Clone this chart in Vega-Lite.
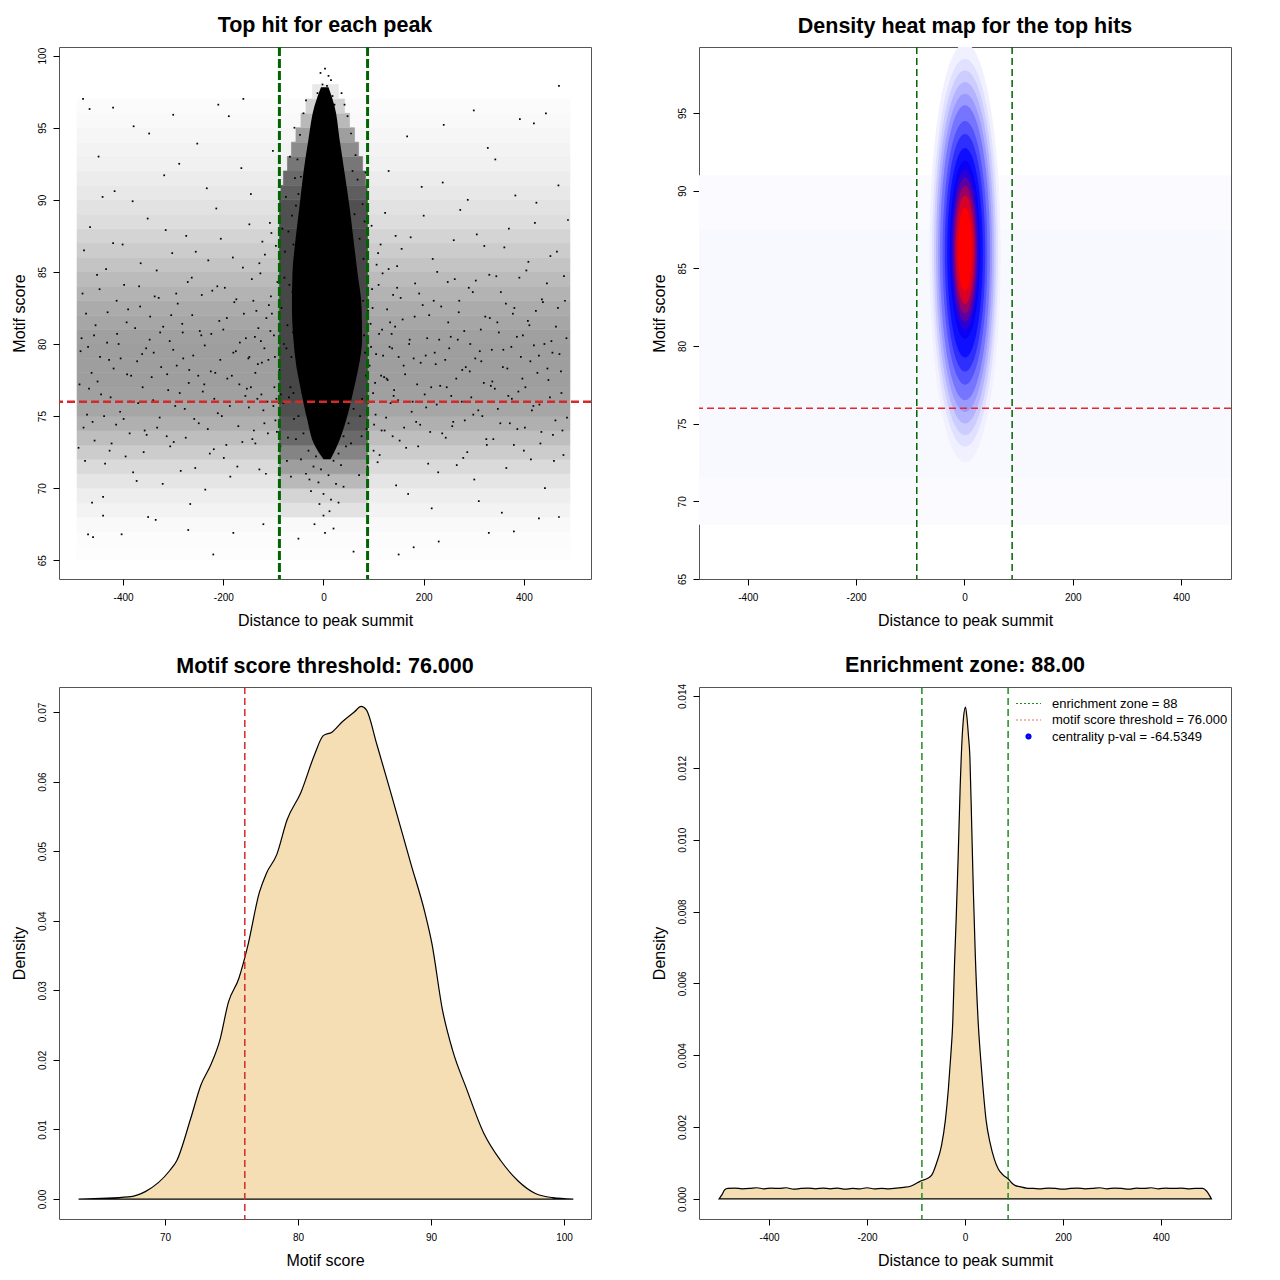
{
  "$schema": "https://vega.github.io/schema/vega-lite/v6.json",
  "padding": {"left": 10, "top": 14, "right": 5, "bottom": 5},
  "background": "white",
  "columns": 2,
  "bounds": "flush",
  "spacing": {"row": 108, "column": 108},
  "datasets": {
    "bands": [
      {"x": -492, "x2": 492, "y": 65, "y2": 66, "d": 0.006},
      {"x": -492, "x2": 492, "y": 66, "y2": 67, "d": 0.012},
      {"x": -492, "x2": 492, "y": 67, "y2": 68, "d": 0.02},
      {"x": -492, "x2": 492, "y": 68, "y2": 69, "d": 0.04},
      {"x": -492, "x2": 492, "y": 69, "y2": 70, "d": 0.06},
      {"x": -492, "x2": 492, "y": 70, "y2": 71, "d": 0.09},
      {"x": -492, "x2": 492, "y": 71, "y2": 72, "d": 0.13},
      {"x": -492, "x2": 492, "y": 72, "y2": 73, "d": 0.18},
      {"x": -492, "x2": 492, "y": 73, "y2": 74, "d": 0.23},
      {"x": -492, "x2": 492, "y": 74, "y2": 75, "d": 0.28},
      {"x": -492, "x2": 492, "y": 75, "y2": 76, "d": 0.32},
      {"x": -492, "x2": 492, "y": 76, "y2": 77, "d": 0.34},
      {"x": -492, "x2": 492, "y": 77, "y2": 78, "d": 0.35},
      {"x": -492, "x2": 492, "y": 78, "y2": 79, "d": 0.35},
      {"x": -492, "x2": 492, "y": 79, "y2": 80, "d": 0.35},
      {"x": -492, "x2": 492, "y": 80, "y2": 81, "d": 0.34},
      {"x": -492, "x2": 492, "y": 81, "y2": 82, "d": 0.32},
      {"x": -492, "x2": 492, "y": 82, "y2": 83, "d": 0.3},
      {"x": -492, "x2": 492, "y": 83, "y2": 84, "d": 0.27},
      {"x": -492, "x2": 492, "y": 84, "y2": 85, "d": 0.24},
      {"x": -492, "x2": 492, "y": 85, "y2": 86, "d": 0.21},
      {"x": -492, "x2": 492, "y": 86, "y2": 87, "d": 0.18},
      {"x": -492, "x2": 492, "y": 87, "y2": 88, "d": 0.15},
      {"x": -492, "x2": 492, "y": 88, "y2": 89, "d": 0.12},
      {"x": -492, "x2": 492, "y": 89, "y2": 90, "d": 0.1},
      {"x": -492, "x2": 492, "y": 90, "y2": 91, "d": 0.08},
      {"x": -492, "x2": 492, "y": 91, "y2": 92, "d": 0.065},
      {"x": -492, "x2": 492, "y": 92, "y2": 93, "d": 0.05},
      {"x": -492, "x2": 492, "y": 93, "y2": 94, "d": 0.04},
      {"x": -492, "x2": 492, "y": 94, "y2": 95, "d": 0.03},
      {"x": -492, "x2": 492, "y": 95, "y2": 96, "d": 0.022},
      {"x": -492, "x2": 492, "y": 96, "y2": 97, "d": 0.014},
      {"x": -88, "x2": 88, "y": 68, "y2": 69, "d": 0.1},
      {"x": -88, "x2": 88, "y": 69, "y2": 70, "d": 0.15},
      {"x": -88, "x2": 88, "y": 70, "y2": 71, "d": 0.25},
      {"x": -88, "x2": 88, "y": 71, "y2": 72, "d": 0.35},
      {"x": -88, "x2": 88, "y": 72, "y2": 73, "d": 0.45},
      {"x": -88, "x2": 88, "y": 73, "y2": 74, "d": 0.55},
      {"x": -88, "x2": 88, "y": 74, "y2": 75, "d": 0.62},
      {"x": -88, "x2": 88, "y": 75, "y2": 76, "d": 0.66},
      {"x": -88, "x2": 88, "y": 76, "y2": 88, "d": 0.7},
      {"x": -88, "x2": 88, "y": 88, "y2": 90, "d": 0.66},
      {"x": -85, "x2": 87, "y": 90, "y2": 91, "d": 0.6},
      {"x": -80, "x2": 84, "y": 91, "y2": 92, "d": 0.55},
      {"x": -72, "x2": 78, "y": 92, "y2": 93, "d": 0.5},
      {"x": -64, "x2": 70, "y": 93, "y2": 94, "d": 0.42},
      {"x": -55, "x2": 62, "y": 94, "y2": 95, "d": 0.35},
      {"x": -45, "x2": 52, "y": 95, "y2": 96, "d": 0.25},
      {"x": -35, "x2": 42, "y": 96, "y2": 97, "d": 0.16},
      {"x": -22, "x2": 30, "y": 97, "y2": 98, "d": 0.08}
    ],
    "core": [
      {"y": 72.0, "xl": 0, "xr": 14},
      {"y": 73.0, "xl": -18, "xr": 28},
      {"y": 74.7, "xl": -32, "xr": 45},
      {"y": 76.8, "xl": -45, "xr": 60},
      {"y": 78.4, "xl": -54, "xr": 70},
      {"y": 80.3, "xl": -60, "xr": 77},
      {"y": 82.6, "xl": -63, "xr": 76},
      {"y": 84.9, "xl": -62, "xr": 68},
      {"y": 87.2, "xl": -56, "xr": 60},
      {"y": 89.5, "xl": -48, "xr": 52},
      {"y": 91.9, "xl": -40, "xr": 42},
      {"y": 94.2, "xl": -30, "xr": 32},
      {"y": 96.5, "xl": -18, "xr": 22},
      {"y": 97.8, "xl": -5, "xr": 10}
    ],
    "pts": [
      {"x": -487, "y": 77.2}, {"x": -481, "y": 83.5}, {"x": -476, "y": 71.9}, {"x": -470, "y": 79.8}, {"x": -466, "y": 88.1},
      {"x": -461, "y": 74.6}, {"x": -455, "y": 81.3}, {"x": -449, "y": 93.0}, {"x": -444, "y": 76.5}, {"x": -440, "y": 69.4},
      {"x": -434, "y": 85.2}, {"x": -428, "y": 78.9}, {"x": -423, "y": 73.1}, {"x": -417, "y": 90.6}, {"x": -412, "y": 80.7},
      {"x": -406, "y": 75.3}, {"x": -401, "y": 86.9}, {"x": -395, "y": 72.2}, {"x": -390, "y": 82.4}, {"x": -384, "y": 77.8},
      {"x": -379, "y": 95.1}, {"x": -373, "y": 70.5}, {"x": -368, "y": 84.0}, {"x": -362, "y": 79.3}, {"x": -357, "y": 74.0},
      {"x": -351, "y": 88.7}, {"x": -346, "y": 81.9}, {"x": -340, "y": 76.1}, {"x": -335, "y": 67.8}, {"x": -329, "y": 83.2},
      {"x": -324, "y": 78.4}, {"x": -318, "y": 91.7}, {"x": -313, "y": 73.6}, {"x": -307, "y": 80.2}, {"x": -302, "y": 86.3},
      {"x": -296, "y": 75.7}, {"x": -291, "y": 82.8}, {"x": -285, "y": 71.2}, {"x": -280, "y": 79.0}, {"x": -274, "y": 87.5},
      {"x": -269, "y": 77.3}, {"x": -263, "y": 84.6}, {"x": -258, "y": 74.8}, {"x": -252, "y": 93.9}, {"x": -247, "y": 80.9},
      {"x": -241, "y": 76.7}, {"x": -236, "y": 69.9}, {"x": -230, "y": 85.8}, {"x": -225, "y": 78.1}, {"x": -219, "y": 72.7},
      {"x": -214, "y": 89.4}, {"x": -208, "y": 81.6}, {"x": -203, "y": 75.0}, {"x": -197, "y": 83.9}, {"x": -192, "y": 77.6},
      {"x": -186, "y": 70.8}, {"x": -181, "y": 86.0}, {"x": -175, "y": 79.5}, {"x": -170, "y": 74.3}, {"x": -164, "y": 92.2},
      {"x": -159, "y": 82.1}, {"x": -153, "y": 76.9}, {"x": -148, "y": 88.3}, {"x": -142, "y": 73.4}, {"x": -137, "y": 80.5},
      {"x": -131, "y": 78.6}, {"x": -126, "y": 84.9}, {"x": -120, "y": 75.4}, {"x": -115, "y": 71.0}, {"x": -109, "y": 82.7},
      {"x": -104, "y": 87.7}, {"x": -98, "y": 77.0}, {"x": -93, "y": 73.9},
      {"x": 95, "y": 79.8}, {"x": 101, "y": 74.4}, {"x": 106, "y": 85.5}, {"x": 112, "y": 72.3}, {"x": 117, "y": 81.0},
      {"x": 123, "y": 89.1}, {"x": 128, "y": 77.5}, {"x": 134, "y": 75.9}, {"x": 139, "y": 83.4}, {"x": 145, "y": 70.2},
      {"x": 150, "y": 79.1}, {"x": 156, "y": 86.6}, {"x": 161, "y": 74.2}, {"x": 167, "y": 94.4}, {"x": 172, "y": 80.3},
      {"x": 178, "y": 76.0}, {"x": 183, "y": 84.2}, {"x": 189, "y": 72.9}, {"x": 194, "y": 78.7}, {"x": 200, "y": 88.9},
      {"x": 205, "y": 75.6}, {"x": 211, "y": 82.0}, {"x": 216, "y": 68.6}, {"x": 222, "y": 79.4}, {"x": 227, "y": 85.0},
      {"x": 233, "y": 77.1}, {"x": 238, "y": 91.2}, {"x": 244, "y": 73.5}, {"x": 249, "y": 81.5}, {"x": 255, "y": 76.4},
      {"x": 260, "y": 87.2}, {"x": 266, "y": 71.6}, {"x": 271, "y": 83.0}, {"x": 277, "y": 78.2}, {"x": 282, "y": 74.7},
      {"x": 288, "y": 90.0}, {"x": 293, "y": 80.0}, {"x": 299, "y": 75.1}, {"x": 304, "y": 84.4}, {"x": 310, "y": 69.1},
      {"x": 315, "y": 78.8}, {"x": 321, "y": 86.8}, {"x": 326, "y": 73.0}, {"x": 332, "y": 81.8}, {"x": 337, "y": 77.4},
      {"x": 343, "y": 92.8}, {"x": 348, "y": 75.5}, {"x": 354, "y": 83.6}, {"x": 359, "y": 79.6}, {"x": 365, "y": 71.4},
      {"x": 370, "y": 88.0}, {"x": 376, "y": 76.2}, {"x": 381, "y": 82.5}, {"x": 387, "y": 74.1}, {"x": 392, "y": 95.6},
      {"x": 398, "y": 80.6}, {"x": 403, "y": 77.0}, {"x": 409, "y": 85.7}, {"x": 414, "y": 72.0}, {"x": 420, "y": 79.9},
      {"x": 425, "y": 89.8}, {"x": 431, "y": 75.8}, {"x": 436, "y": 83.1}, {"x": 442, "y": 70.0}, {"x": 447, "y": 78.3},
      {"x": 453, "y": 86.1}, {"x": 458, "y": 73.7}, {"x": 464, "y": 81.2}, {"x": 469, "y": 91.0}, {"x": 475, "y": 76.6},
      {"x": 480, "y": 84.7}, {"x": 486, "y": 74.9},
      {"x": -489, "y": 72.8}, {"x": -483, "y": 80.4}, {"x": -478, "y": 86.5}, {"x": -472, "y": 75.1}, {"x": -467, "y": 96.3},
      {"x": -463, "y": 78.0}, {"x": -457, "y": 73.3}, {"x": -452, "y": 84.8}, {"x": -446, "y": 79.1}, {"x": -441, "y": 90.2},
      {"x": -436, "y": 71.7}, {"x": -431, "y": 82.2}, {"x": -425, "y": 76.3}, {"x": -420, "y": 87.0}, {"x": -414, "y": 74.4},
      {"x": -409, "y": 80.0}, {"x": -403, "y": 66.8}, {"x": -398, "y": 84.1}, {"x": -392, "y": 77.9}, {"x": -387, "y": 73.8},
      {"x": -381, "y": 89.9}, {"x": -376, "y": 81.1}, {"x": -370, "y": 75.9}, {"x": -365, "y": 85.6}, {"x": -359, "y": 72.5},
      {"x": -354, "y": 79.7}, {"x": -348, "y": 94.6}, {"x": -343, "y": 77.7}, {"x": -337, "y": 83.3}, {"x": -332, "y": 74.2},
      {"x": -326, "y": 80.8}, {"x": -321, "y": 70.3}, {"x": -315, "y": 87.9}, {"x": -310, "y": 76.8}, {"x": -304, "y": 82.0},
      {"x": -299, "y": 73.2}, {"x": -293, "y": 78.5}, {"x": -288, "y": 92.5}, {"x": -282, "y": 81.4}, {"x": -277, "y": 75.5},
      {"x": -271, "y": 84.3}, {"x": -266, "y": 68.9}, {"x": -260, "y": 79.2}, {"x": -255, "y": 86.4}, {"x": -249, "y": 74.5},
      {"x": -244, "y": 80.6}, {"x": -238, "y": 77.2}, {"x": -233, "y": 90.8}, {"x": -227, "y": 72.4}, {"x": -222, "y": 83.7},
      {"x": -216, "y": 78.0}, {"x": -211, "y": 75.2}, {"x": -205, "y": 87.3}, {"x": -200, "y": 81.0}, {"x": -194, "y": 73.0},
      {"x": -189, "y": 95.8}, {"x": -183, "y": 77.8}, {"x": -178, "y": 82.9}, {"x": -172, "y": 71.5}, {"x": -167, "y": 80.1},
      {"x": -161, "y": 85.3}, {"x": -156, "y": 76.4}, {"x": -150, "y": 79.0}, {"x": -145, "y": 90.4}, {"x": -139, "y": 74.0},
      {"x": -134, "y": 82.3}, {"x": -128, "y": 71.3}, {"x": -123, "y": 78.7}, {"x": -117, "y": 86.2}, {"x": -112, "y": 76.0},
      {"x": -106, "y": 80.9}, {"x": -101, "y": 93.4}, {"x": -96, "y": 74.7},
      {"x": 97, "y": 83.8}, {"x": 103, "y": 77.3}, {"x": 108, "y": 71.8}, {"x": 114, "y": 86.9}, {"x": 119, "y": 79.2},
      {"x": 125, "y": 74.9}, {"x": 130, "y": 92.0}, {"x": 136, "y": 80.7}, {"x": 141, "y": 76.8}, {"x": 147, "y": 85.4},
      {"x": 152, "y": 73.3}, {"x": 158, "y": 81.7}, {"x": 163, "y": 77.9}, {"x": 169, "y": 69.6}, {"x": 174, "y": 87.4},
      {"x": 180, "y": 79.0}, {"x": 185, "y": 74.6}, {"x": 191, "y": 83.5}, {"x": 196, "y": 90.9}, {"x": 202, "y": 76.5},
      {"x": 207, "y": 80.4}, {"x": 213, "y": 73.9}, {"x": 218, "y": 85.9}, {"x": 224, "y": 78.6}, {"x": 229, "y": 71.1},
      {"x": 235, "y": 82.6}, {"x": 240, "y": 95.2}, {"x": 246, "y": 77.0}, {"x": 251, "y": 79.7}, {"x": 257, "y": 74.3},
      {"x": 262, "y": 84.5}, {"x": 268, "y": 80.3}, {"x": 273, "y": 89.3}, {"x": 279, "y": 72.1}, {"x": 284, "y": 78.4},
      {"x": 290, "y": 83.9}, {"x": 295, "y": 76.3}, {"x": 301, "y": 70.6}, {"x": 306, "y": 87.6}, {"x": 312, "y": 79.5},
      {"x": 317, "y": 75.0}, {"x": 323, "y": 81.9}, {"x": 328, "y": 93.6}, {"x": 334, "y": 77.1}, {"x": 339, "y": 73.4},
      {"x": 345, "y": 84.7}, {"x": 350, "y": 80.8}, {"x": 356, "y": 68.3}, {"x": 361, "y": 86.7}, {"x": 367, "y": 78.3},
      {"x": 372, "y": 74.5}, {"x": 378, "y": 82.1}, {"x": 383, "y": 90.3}, {"x": 389, "y": 76.7}, {"x": 394, "y": 79.1},
      {"x": 400, "y": 72.6}, {"x": 405, "y": 85.1}, {"x": 411, "y": 81.3}, {"x": 416, "y": 75.4}, {"x": 422, "y": 88.4},
      {"x": 427, "y": 78.0}, {"x": 433, "y": 73.1}, {"x": 438, "y": 82.9}, {"x": 444, "y": 96.0}, {"x": 449, "y": 77.5},
      {"x": 455, "y": 80.2}, {"x": 460, "y": 71.9}, {"x": 466, "y": 86.4}, {"x": 471, "y": 79.3}, {"x": 477, "y": 74.0},
      {"x": 482, "y": 83.0}, {"x": 488, "y": 88.6},
      {"x": -485, "y": 79.5}, {"x": -479, "y": 74.2}, {"x": -474, "y": 82.1}, {"x": -468, "y": 76.9}, {"x": -462, "y": 69.0},
      {"x": -458, "y": 80.6}, {"x": -451, "y": 77.4}, {"x": -447, "y": 83.8}, {"x": -438, "y": 75.0}, {"x": -432, "y": 80.1},
      {"x": -427, "y": 72.6}, {"x": -419, "y": 78.3}, {"x": -413, "y": 83.0}, {"x": -405, "y": 79.0}, {"x": -399, "y": 74.8},
      {"x": -393, "y": 81.5}, {"x": -386, "y": 76.0}, {"x": -380, "y": 71.1}, {"x": -372, "y": 78.8}, {"x": -366, "y": 82.6},
      {"x": -361, "y": 77.0}, {"x": -353, "y": 73.7}, {"x": -347, "y": 80.3}, {"x": -339, "y": 79.4}, {"x": -333, "y": 85.1},
      {"x": -327, "y": 74.9}, {"x": -320, "y": 81.2}, {"x": -312, "y": 77.9}, {"x": -306, "y": 72.9}, {"x": -300, "y": 79.6},
      {"x": -294, "y": 83.5}, {"x": -287, "y": 76.6}, {"x": -281, "y": 80.8}, {"x": -275, "y": 73.5}, {"x": -268, "y": 78.2},
      {"x": -262, "y": 82.0}, {"x": -256, "y": 71.4}, {"x": -250, "y": 77.8}, {"x": -243, "y": 83.4}, {"x": -237, "y": 79.9},
      {"x": -231, "y": 74.1}, {"x": -224, "y": 80.7}, {"x": -218, "y": 76.2}, {"x": -212, "y": 84.0}, {"x": -206, "y": 78.9},
      {"x": -199, "y": 72.1}, {"x": -193, "y": 81.8}, {"x": -187, "y": 75.7}, {"x": -180, "y": 79.4}, {"x": -174, "y": 83.1},
      {"x": -168, "y": 77.2}, {"x": -162, "y": 73.2}, {"x": -155, "y": 80.4}, {"x": -149, "y": 75.6}, {"x": -143, "y": 84.5},
      {"x": -136, "y": 78.0}, {"x": -130, "y": 81.1}, {"x": -124, "y": 76.5}, {"x": -118, "y": 79.7}, {"x": -111, "y": 73.8},
      {"x": -105, "y": 83.3}, {"x": -99, "y": 80.6}, {"x": -94, "y": 76.2},
      {"x": 94, "y": 81.4}, {"x": 99, "y": 76.6}, {"x": 105, "y": 79.3}, {"x": 110, "y": 84.1}, {"x": 116, "y": 74.0},
      {"x": 121, "y": 77.7}, {"x": 127, "y": 82.4}, {"x": 132, "y": 79.8}, {"x": 138, "y": 73.6}, {"x": 143, "y": 81.2},
      {"x": 149, "y": 76.1}, {"x": 154, "y": 83.2}, {"x": 160, "y": 78.5}, {"x": 165, "y": 72.8}, {"x": 171, "y": 80.0},
      {"x": 176, "y": 75.3}, {"x": 182, "y": 81.9}, {"x": 187, "y": 77.2}, {"x": 193, "y": 74.4}, {"x": 198, "y": 82.7},
      {"x": 204, "y": 79.2}, {"x": 209, "y": 71.7}, {"x": 215, "y": 77.0}, {"x": 220, "y": 83.0}, {"x": 226, "y": 75.8},
      {"x": 231, "y": 80.3}, {"x": 237, "y": 73.8}, {"x": 243, "y": 78.9}, {"x": 248, "y": 84.3}, {"x": 254, "y": 80.5},
      {"x": 259, "y": 74.6}, {"x": 265, "y": 77.6}, {"x": 270, "y": 82.2}, {"x": 276, "y": 76.0}, {"x": 281, "y": 80.9},
      {"x": 287, "y": 72.5}, {"x": 292, "y": 78.1}, {"x": 298, "y": 83.6}, {"x": 303, "y": 79.0}, {"x": 309, "y": 75.4},
      {"x": 314, "y": 81.0}, {"x": 320, "y": 77.3}, {"x": 325, "y": 73.4}, {"x": 331, "y": 84.8}, {"x": 336, "y": 79.6},
      {"x": 342, "y": 76.9}, {"x": 347, "y": 81.5}, {"x": 353, "y": 74.5}, {"x": 358, "y": 78.4}, {"x": 364, "y": 82.8},
      {"x": 369, "y": 76.4}, {"x": 375, "y": 79.8}, {"x": 380, "y": 73.0}, {"x": 386, "y": 80.5}, {"x": 391, "y": 84.6},
      {"x": 397, "y": 77.6}, {"x": 402, "y": 74.2}, {"x": 408, "y": 81.6}, {"x": 413, "y": 78.8}, {"x": 419, "y": 75.7},
      {"x": 424, "y": 82.3}, {"x": 430, "y": 79.2}, {"x": 435, "y": 73.9}, {"x": 441, "y": 80.0}, {"x": 446, "y": 84.2},
      {"x": 452, "y": 76.3}, {"x": 457, "y": 79.4}, {"x": 463, "y": 74.7}, {"x": 468, "y": 82.5}, {"x": 474, "y": 78.1},
      {"x": 479, "y": 72.3}, {"x": 485, "y": 80.4},
      {"x": -480, "y": 97.0}, {"x": -420, "y": 96.4}, {"x": -300, "y": 95.9}, {"x": -210, "y": 96.6}, {"x": -160, "y": 97.0},
      {"x": 470, "y": 97.9}, {"x": 420, "y": 95.3}, {"x": 300, "y": 96.2}, {"x": -470, "y": 66.8}, {"x": -460, "y": 66.6},
      {"x": -350, "y": 68.0}, {"x": -270, "y": 67.1}, {"x": -220, "y": 65.4}, {"x": -180, "y": 66.9}, {"x": -120, "y": 67.5},
      {"x": 150, "y": 65.4}, {"x": 180, "y": 65.9}, {"x": 230, "y": 66.3}, {"x": 330, "y": 66.9}, {"x": 430, "y": 67.9},
      {"x": 470, "y": 68.0}, {"x": 380, "y": 67.0}, {"x": -440, "y": 68.1}, {"x": 60, "y": 65.6}, {"x": -50, "y": 66.5},
      {"x": 20, "y": 67.2},
      {"x": -88, "y": 78.2}, {"x": -84, "y": 82.5}, {"x": -80, "y": 75.9}, {"x": -77, "y": 86.4}, {"x": -74, "y": 79.7},
      {"x": -71, "y": 73.5}, {"x": -68, "y": 84.1}, {"x": -66, "y": 77.0}, {"x": -63, "y": 88.9}, {"x": -61, "y": 80.8},
      {"x": -59, "y": 74.8}, {"x": -57, "y": 91.5}, {"x": -72, "y": 81.3}, {"x": -82, "y": 88.0}, {"x": -86, "y": 72.9},
      {"x": -79, "y": 80.0}, {"x": -65, "y": 70.8}, {"x": -69, "y": 76.3}, {"x": -75, "y": 90.2}, {"x": -62, "y": 83.6},
      {"x": -60, "y": 86.9}, {"x": -64, "y": 79.1}, {"x": -70, "y": 87.8}, {"x": -78, "y": 84.6}, {"x": -85, "y": 76.5},
      {"x": -73, "y": 71.9}, {"x": -67, "y": 93.0}, {"x": -58, "y": 95.0}, {"x": -52, "y": 92.8}, {"x": -47, "y": 94.5},
      {"x": -40, "y": 96.0}, {"x": -35, "y": 96.9}, {"x": -55, "y": 89.6}, {"x": -50, "y": 90.4}, {"x": -45, "y": 91.6},
      {"x": 62, "y": 89.0}, {"x": 66, "y": 84.7}, {"x": 70, "y": 78.8}, {"x": 74, "y": 81.6}, {"x": 77, "y": 76.2},
      {"x": 80, "y": 85.9}, {"x": 83, "y": 79.4}, {"x": 86, "y": 74.1}, {"x": 89, "y": 82.3}, {"x": 68, "y": 91.4},
      {"x": 72, "y": 87.3}, {"x": 76, "y": 73.6}, {"x": 79, "y": 83.0}, {"x": 82, "y": 88.5}, {"x": 85, "y": 77.8},
      {"x": 88, "y": 71.5}, {"x": 64, "y": 93.1}, {"x": 58, "y": 92.0}, {"x": 55, "y": 94.6}, {"x": 48, "y": 95.8},
      {"x": 42, "y": 96.6}, {"x": 36, "y": 97.4}, {"x": 60, "y": 86.0}, {"x": 73, "y": 75.0}, {"x": 81, "y": 80.6},
      {"x": 87, "y": 86.2}, {"x": 71, "y": 70.9}, {"x": 84, "y": 91.9}, {"x": 78, "y": 89.7}, {"x": 67, "y": 80.1},
      {"x": -40, "y": 73.8}, {"x": -30, "y": 72.6}, {"x": -20, "y": 71.5}, {"x": -10, "y": 70.4}, {"x": 0, "y": 69.6},
      {"x": 10, "y": 70.9}, {"x": 20, "y": 71.9}, {"x": 30, "y": 72.4}, {"x": 40, "y": 73.6}, {"x": 50, "y": 74.5},
      {"x": -50, "y": 75.0}, {"x": -35, "y": 71.0}, {"x": -25, "y": 69.8}, {"x": -15, "y": 72.2}, {"x": -5, "y": 71.3},
      {"x": 5, "y": 72.5}, {"x": 15, "y": 69.2}, {"x": 25, "y": 70.3}, {"x": 35, "y": 71.6}, {"x": 45, "y": 72.9},
      {"x": 55, "y": 73.1}, {"x": -45, "y": 72.0}, {"x": 0, "y": 68.1}, {"x": -8, "y": 68.9}, {"x": 12, "y": 68.4},
      {"x": 30, "y": 69.0}, {"x": -28, "y": 70.6}, {"x": -55, "y": 73.4}, {"x": 60, "y": 75.5}, {"x": -60, "y": 76.6},
      {"x": 8, "y": 73.4}, {"x": -12, "y": 73.9}, {"x": 18, "y": 73.0}, {"x": -22, "y": 74.3}, {"x": 28, "y": 74.0},
      {"x": 38, "y": 75.8}, {"x": -42, "y": 76.6}, {"x": 3, "y": 66.9}, {"x": -18, "y": 67.5}, {"x": 40, "y": 70.1},
      {"x": -148, "y": 79.1}, {"x": -140, "y": 83.0}, {"x": -132, "y": 76.2}, {"x": -125, "y": 80.2}, {"x": -118, "y": 74.5},
      {"x": -110, "y": 78.9}, {"x": -103, "y": 82.1}, {"x": -97, "y": 79.1}, {"x": -92, "y": 84.3}, {"x": -145, "y": 77.0},
      {"x": -128, "y": 85.6}, {"x": -114, "y": 81.8}, {"x": -100, "y": 75.7}, {"x": -136, "y": 73.1}, {"x": -122, "y": 87.1},
      {"x": -107, "y": 88.4}, {"x": -95, "y": 86.8},
      {"x": 92, "y": 78.5}, {"x": 98, "y": 82.5}, {"x": 104, "y": 75.1}, {"x": 111, "y": 80.7}, {"x": 118, "y": 84.9},
      {"x": 126, "y": 77.6}, {"x": 133, "y": 81.5}, {"x": 140, "y": 76.4}, {"x": 147, "y": 83.9}, {"x": 96, "y": 88.2},
      {"x": 109, "y": 86.3}, {"x": 122, "y": 74.0}, {"x": 137, "y": 79.7}, {"x": 144, "y": 87.5}, {"x": 100, "y": 72.6},
      {"x": 115, "y": 77.8}, {"x": 130, "y": 85.2},
      {"x": -6, "y": 98.8}, {"x": 3, "y": 99.1}, {"x": 10, "y": 98.6}, {"x": 15, "y": 98.3}, {"x": -2, "y": 98.0},
      {"x": 7, "y": 97.9}, {"x": 18, "y": 97.2}, {"x": -12, "y": 97.4}, {"x": 22, "y": 96.6}, {"x": -17, "y": 96.1}
    ],
    "zone": [{"v": -88}, {"v": 88}],
    "heatbg": [
      {"x": -490, "x2": 492, "y": 68.5, "y2": 91, "d": 0.008},
      {"x": -490, "x2": 492, "y": 71.5, "y2": 87.5, "d": 0.014}
    ],
    "heat": [
      {"cx": 1, "cy": 86, "h": 27, "d": 0.03},
      {"cx": 1, "cy": 86, "h": 25, "d": 0.06},
      {"cx": 1, "cy": 86, "h": 23.5, "d": 0.1},
      {"cx": 1, "cy": 86, "h": 22, "d": 0.15},
      {"cx": 1, "cy": 86, "h": 20.5, "d": 0.2},
      {"cx": 1, "cy": 86, "h": 19, "d": 0.27},
      {"cx": 1, "cy": 86, "h": 17, "d": 0.34},
      {"cx": 1, "cy": 86, "h": 15.3, "d": 0.41},
      {"cx": 1, "cy": 86, "h": 13.5, "d": 0.47},
      {"cx": 1, "cy": 86.2, "h": 11.5, "d": 0.52},
      {"cx": 1, "cy": 86.2, "h": 10.3, "d": 0.58},
      {"cx": 1, "cy": 86.2, "h": 9.3, "d": 0.68},
      {"cx": 1, "cy": 86.2, "h": 8.2, "d": 0.8},
      {"cx": 1, "cy": 86.2, "h": 7.0, "d": 0.92},
      {"cx": 1, "cy": 86.2, "h": 5.4, "d": 1.0}
    ],
    "dens1": [
      {"x": 63.5, "y": 0}, {"x": 67.25, "y": 0.0003}, {"x": 68.55, "y": 0.0011}, {"x": 70.36, "y": 0.0041},
      {"x": 70.88, "y": 0.0055}, {"x": 71.92, "y": 0.0115}, {"x": 72.7, "y": 0.0164}, {"x": 73.47, "y": 0.0194},
      {"x": 74.12, "y": 0.0228}, {"x": 74.77, "y": 0.0283}, {"x": 75.55, "y": 0.0317}, {"x": 76.2, "y": 0.0362},
      {"x": 77.1, "y": 0.0441}, {"x": 77.62, "y": 0.0468}, {"x": 78.4, "y": 0.0495}, {"x": 79.18, "y": 0.0545},
      {"x": 80.21, "y": 0.0584}, {"x": 81.25, "y": 0.0639}, {"x": 81.9, "y": 0.0666}, {"x": 82.55, "y": 0.0671},
      {"x": 83.33, "y": 0.0686}, {"x": 84.23, "y": 0.07}, {"x": 84.75, "y": 0.0708}, {"x": 85.14, "y": 0.0703},
      {"x": 85.92, "y": 0.0654}, {"x": 87.2, "y": 0.0569}, {"x": 88.5, "y": 0.0481}, {"x": 89.55, "y": 0.0411},
      {"x": 90.07, "y": 0.0367}, {"x": 90.85, "y": 0.0273}, {"x": 91.62, "y": 0.0214}, {"x": 92.66, "y": 0.0159},
      {"x": 93.96, "y": 0.0095}, {"x": 95.25, "y": 0.0055}, {"x": 96.55, "y": 0.0026}, {"x": 97.85, "y": 0.0008},
      {"x": 99.14, "y": 0.0002}, {"x": 100.7, "y": 0}
    ],
    "dens2": [
      {"x": -502, "y": 0}, {"x": -496, "y": 0.00012}, {"x": -490, "y": 0.00026}, {"x": -484, "y": 0.00029},
      {"x": -470, "y": 0.0003}, {"x": -455, "y": 0.00028}, {"x": -440, "y": 0.00029}, {"x": -425, "y": 0.00031},
      {"x": -410, "y": 0.00028}, {"x": -395, "y": 0.0003}, {"x": -380, "y": 0.00029}, {"x": -365, "y": 0.00031},
      {"x": -350, "y": 0.00027}, {"x": -335, "y": 0.00029}, {"x": -320, "y": 0.0003}, {"x": -305, "y": 0.00028},
      {"x": -290, "y": 0.0003}, {"x": -275, "y": 0.00028}, {"x": -260, "y": 0.0003}, {"x": -245, "y": 0.00027},
      {"x": -230, "y": 0.00029}, {"x": -215, "y": 0.00028}, {"x": -200, "y": 0.00031}, {"x": -185, "y": 0.00028},
      {"x": -170, "y": 0.00029}, {"x": -155, "y": 0.00028}, {"x": -140, "y": 0.0003}, {"x": -125, "y": 0.00032},
      {"x": -110, "y": 0.00036}, {"x": -97, "y": 0.00045}, {"x": -88, "y": 0.00051}, {"x": -78, "y": 0.00056},
      {"x": -68, "y": 0.00066}, {"x": -58, "y": 0.001}, {"x": -48, "y": 0.00148}, {"x": -40, "y": 0.0022},
      {"x": -34, "y": 0.00305}, {"x": -29, "y": 0.004}, {"x": -25, "y": 0.00491}, {"x": -21.5, "y": 0.0065},
      {"x": -18, "y": 0.0078}, {"x": -14, "y": 0.0095}, {"x": -10, "y": 0.0114}, {"x": -6, "y": 0.0128},
      {"x": -3, "y": 0.0134}, {"x": 1, "y": 0.01369}, {"x": 4, "y": 0.0134}, {"x": 7, "y": 0.0129},
      {"x": 10, "y": 0.0123}, {"x": 13.5, "y": 0.0105}, {"x": 17, "y": 0.0086}, {"x": 21, "y": 0.0068},
      {"x": 27, "y": 0.0049}, {"x": 32, "y": 0.0039}, {"x": 37, "y": 0.00305}, {"x": 43, "y": 0.0022},
      {"x": 51, "y": 0.00157}, {"x": 60, "y": 0.0011}, {"x": 68, "y": 0.00083}, {"x": 78, "y": 0.00066},
      {"x": 88, "y": 0.00056}, {"x": 95, "y": 0.00045}, {"x": 103, "y": 0.00037}, {"x": 112, "y": 0.00034},
      {"x": 125, "y": 0.0003}, {"x": 140, "y": 0.00029}, {"x": 155, "y": 0.00028}, {"x": 170, "y": 0.0003},
      {"x": 185, "y": 0.00029}, {"x": 200, "y": 0.00027}, {"x": 215, "y": 0.00029}, {"x": 230, "y": 0.0003},
      {"x": 245, "y": 0.00028}, {"x": 260, "y": 0.00029}, {"x": 275, "y": 0.00031}, {"x": 290, "y": 0.00028},
      {"x": 305, "y": 0.0003}, {"x": 320, "y": 0.00029}, {"x": 335, "y": 0.00027}, {"x": 350, "y": 0.0003},
      {"x": 365, "y": 0.00029}, {"x": 380, "y": 0.00031}, {"x": 395, "y": 0.00028}, {"x": 410, "y": 0.0003},
      {"x": 425, "y": 0.00029}, {"x": 440, "y": 0.0003}, {"x": 455, "y": 0.00028}, {"x": 470, "y": 0.00029},
      {"x": 485, "y": 0.00029}, {"x": 493, "y": 0.00022}, {"x": 503, "y": 0}
    ],
    "leg": [
      {"label": "enrichment zone = 88"},
      {"label": "motif score threshold = 76.000"},
      {"label": "centrality p-val = -64.5349"}
    ]
  },
  "concat": [
    {
      "width": 532,
      "height": 532,
      "title": {"text": "Top hit for each peak", "offset": 9},
      "layer": [
        {
          "data": {"name": "bands"},
          "mark": {"type": "rect", "strokeWidth": 0.6},
          "encoding": {
            "x": {"field": "x", "type": "quantitative", "scale": {"domain": [-528, 534], "nice": false, "zero": false}, "axis": {"values": [-400, -200, 0, 200, 400], "title": "Distance to peak summit"}},
            "x2": {"field": "x2"},
            "y": {"field": "y", "type": "quantitative", "scale": {"domain": [63.7, 100.6], "nice": false, "zero": false}, "axis": {"values": [65, 70, 75, 80, 85, 90, 95, 100], "title": "Motif score"}},
            "y2": {"field": "y2"},
            "color": {"field": "d", "type": "quantitative", "scale": {"domain": [0, 1], "range": ["#ffffff", "#000000"]}, "legend": null},
            "stroke": {"field": "d", "type": "quantitative", "scale": {"domain": [0, 1], "range": ["#ffffff", "#000000"]}, "legend": null}
          }
        },
        {
          "data": {"name": "core"},
          "mark": {"type": "area", "orient": "horizontal", "color": "#000000", "interpolate": "monotone"},
          "encoding": {
            "y": {"field": "y", "type": "quantitative"},
            "x": {"field": "xl", "type": "quantitative"},
            "x2": {"field": "xr"}
          }
        },
        {
          "data": {"name": "pts"},
          "mark": {"type": "square", "size": 3, "color": "#000000", "opacity": 1},
          "encoding": {
            "x": {"field": "x", "type": "quantitative"},
            "y": {"field": "y", "type": "quantitative"}
          }
        },
        {
          "data": {"name": "zone"},
          "mark": {"type": "rule", "color": "#006400", "strokeWidth": 3, "strokeDash": [9, 3]},
          "encoding": {"x": {"field": "v", "type": "quantitative"}}
        },
        {
          "data": {"values": [{"v": 76}]},
          "mark": {"type": "rule", "color": "#d42a2a", "strokeWidth": 2.5, "strokeDash": [8, 4]},
          "encoding": {"y": {"field": "v", "type": "quantitative"}}
        }
      ]
    },
    {
      "width": 532,
      "height": 532,
      "title": {"text": "Density heat map for the top hits", "offset": 9},
      "layer": [
        {
          "data": {"name": "heatbg"},
          "mark": {"type": "rect"},
          "encoding": {
            "x": {"field": "x", "type": "quantitative", "scale": {"domain": [-490, 492], "nice": false, "zero": false}, "axis": {"values": [-400, -200, 0, 200, 400], "title": "Distance to peak summit"}},
            "x2": {"field": "x2"},
            "y": {"field": "y", "type": "quantitative", "scale": {"domain": [65, 99.25], "nice": false, "zero": false}, "axis": {"values": [65, 70, 75, 80, 85, 90, 95], "title": "Motif score"}},
            "y2": {"field": "y2"},
            "color": {"field": "d", "type": "quantitative", "scale": {"domain": [0, 0.5, 1], "range": ["#ffffff", "#0000ff", "#ff0000"], "interpolate": "rgb"}, "legend": null}
          }
        },
        {
          "data": {"name": "heat"},
          "mark": {"type": "point", "filled": true, "opacity": 1, "strokeWidth": 0, "shape": "M0,-1A0.17,1 0 1,1 0,1A0.17,1 0 1,1 0,-1Z", "clip": true},
          "encoding": {
            "x": {"field": "cx", "type": "quantitative"},
            "y": {"field": "cy", "type": "quantitative"},
            "size": {"field": "h", "type": "quantitative", "scale": {"type": "pow", "exponent": 2, "domain": [0, 30], "range": [0, 216810]}, "legend": null},
            "color": {"field": "d", "type": "quantitative"}
          }
        },
        {
          "data": {"name": "zone"},
          "mark": {"type": "rule", "color": "#006400", "strokeWidth": 1.5, "strokeDash": [7, 4]},
          "encoding": {"x": {"field": "v", "type": "quantitative"}}
        },
        {
          "data": {"values": [{"v": 76}]},
          "mark": {"type": "rule", "color": "#e8262b", "strokeWidth": 1.5, "strokeDash": [7, 4]},
          "encoding": {"y": {"field": "v", "type": "quantitative"}}
        }
      ]
    },
    {
      "width": 532,
      "height": 532,
      "title": {"text": "Motif score threshold: 76.000", "offset": 9},
      "layer": [
        {
          "data": {"name": "dens1"},
          "mark": {"type": "area", "fill": "#f5deb3", "stroke": "#000000", "strokeWidth": 1.2, "interpolate": "monotone"},
          "encoding": {
            "x": {"field": "x", "type": "quantitative", "scale": {"domain": [62.03, 102.03], "nice": false, "zero": false}, "axis": {"values": [70, 80, 90, 100], "title": "Motif score"}},
            "y": {"field": "y", "type": "quantitative", "scale": {"domain": [-0.00287, 0.07359], "nice": false, "zero": false}, "axis": {"values": [0, 0.01, 0.02, 0.03, 0.04, 0.05, 0.06, 0.07], "format": ".2f", "title": "Density"}},
            "y2": {"datum": 0}
          }
        },
        {
          "data": {"values": [{"v": 76}]},
          "mark": {"type": "rule", "color": "#d42a2a", "strokeWidth": 1.5, "strokeDash": [7, 4]},
          "encoding": {"x": {"field": "v", "type": "quantitative"}}
        }
      ]
    },
    {
      "width": 532,
      "height": 532,
      "title": {"text": "Enrichment zone: 88.00", "offset": 7},
      "layer": [
        {
          "data": {"name": "dens2"},
          "mark": {"type": "area", "fill": "#f5deb3", "stroke": "#000000", "strokeWidth": 1.2, "interpolate": "monotone"},
          "encoding": {
            "x": {"field": "x", "type": "quantitative", "scale": {"domain": [-543, 543], "nice": false, "zero": false}, "axis": {"values": [-400, -200, 0, 200, 400], "title": "Distance to peak summit"}},
            "y": {"field": "y", "type": "quantitative", "scale": {"domain": [-0.00056, 0.01425], "nice": false, "zero": false}, "axis": {"values": [0, 0.002, 0.004, 0.006, 0.008, 0.01, 0.012, 0.014], "format": ".3f", "title": "Density"}},
            "y2": {"datum": 0}
          }
        },
        {
          "data": {"name": "zone"},
          "mark": {"type": "rule", "color": "#228b22", "strokeWidth": 1.5, "strokeDash": [7, 4]},
          "encoding": {"x": {"field": "v", "type": "quantitative"}}
        },
        {
          "data": {"name": "leg"},
          "mark": {"type": "point", "filled": false, "opacity": 0},
          "encoding": {
            "color": {"field": "label", "type": "nominal", "scale": {"domain": ["enrichment zone = 88", "motif score threshold = 76.000", "centrality p-val = -64.5349"], "range": ["#228b22", "#ee6a6a", "#0000ff"]}, "legend": {"title": " ", "titleFontSize": 1, "titlePadding": 6, "orient": "top-right", "offset": 3, "padding": 0, "labelFontSize": 13, "labelOffset": 17, "labelLimit": 400, "rowPadding": 2.5, "symbolSize": 100, "symbolOpacity": 1, "symbolStrokeWidth": 1.2}},
            "shape": {"field": "label", "type": "nominal", "scale": {"domain": ["enrichment zone = 88", "motif score threshold = 76.000", "centrality p-val = -64.5349"], "range": ["M-2.5,0H2.5", "M-2.5,0H2.5", "M-0.5,0A0.5,0.5 0 1,1 0.5,0A0.5,0.5 0 1,1 -0.5,0ZM-0.34,0A0.34,0.34 0 1,1 0.34,0A0.34,0.34 0 1,1 -0.34,0ZM-0.18,0A0.18,0.18 0 1,1 0.18,0A0.18,0.18 0 1,1 -0.18,0ZM-0.04,0A0.04,0.04 0 1,1 0.04,0A0.04,0.04 0 1,1 -0.04,0Z"]}, "legend": {"title": " ", "titleFontSize": 1, "titlePadding": 6, "orient": "top-right", "offset": 3, "padding": 0, "labelFontSize": 13, "labelOffset": 17, "labelLimit": 400, "rowPadding": 2.5, "symbolSize": 100, "symbolOpacity": 1, "symbolStrokeWidth": 1.2}},
            "strokeDash": {"field": "label", "type": "nominal", "scale": {"domain": ["enrichment zone = 88", "motif score threshold = 76.000", "centrality p-val = -64.5349"], "range": [[2, 2], [2, 2], [1, 0]]}, "legend": {"title": " ", "titleFontSize": 1, "titlePadding": 6, "orient": "top-right", "offset": 3, "padding": 0, "labelFontSize": 13, "labelOffset": 17, "labelLimit": 400, "rowPadding": 2.5, "symbolSize": 100, "symbolOpacity": 1, "symbolStrokeWidth": 1.2}}
          }
        }
      ]
    }
  ],
  "resolve": {"scale": {"x": "independent", "y": "independent", "color": "independent", "stroke": "independent", "shape": "independent", "size": "independent", "strokeDash": "independent"}},
  "config": {
    "font": "Liberation Sans",
    "locale": {"number": {"decimal": ".", "thousands": ",", "grouping": [3], "currency": ["$", ""], "minus": "-"}},
    "view": {"stroke": "#555555", "strokeWidth": 1},
    "axis": {"grid": false, "domain": false, "tickColor": "#000000", "tickSize": 6, "labelFontSize": 10, "labelColor": "#000000", "titleFontSize": 16, "titleFontWeight": "normal", "titleColor": "#000000"},
    "axisY": {"labelAngle": -90, "labelAlign": "center", "labelBaseline": "bottom", "labelPadding": 6, "titlePadding": 10},
    "axisX": {"labelPadding": 7, "titlePadding": 10},
    "title": {"fontSize": 21.5, "fontWeight": "bold", "color": "#000000", "frame": "group"},
    "legend": {"labelColor": "#000000", "labelFont": "Liberation Sans"}
  }
}
